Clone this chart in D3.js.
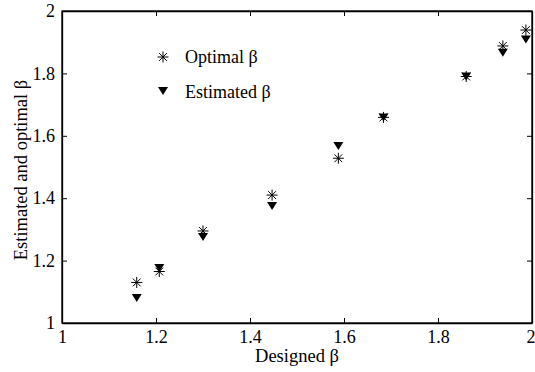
<!DOCTYPE html>
<html><head><meta charset="utf-8">
<script src="https://cdn.jsdelivr.net/npm/d3@7"></script>
<style>body{margin:0;background:#fff}svg{display:block}text{font-family:"Liberation Serif","Times New Roman",serif;fill:#000}</style>
</head><body><svg id="c" width="535" height="372"></svg>
<script>
const designed = [1.159, 1.207, 1.30, 1.447, 1.588, 1.684, 1.86, 1.938, 1.987];
const optimal  = [1.13, 1.165, 1.295, 1.41, 1.528, 1.659, 1.79, 1.888, 1.939];
const estimated= [1.08, 1.176, 1.276, 1.375, 1.567, 1.659, 1.79, 1.866, 1.909];
const xTicks = [1, 1.2, 1.4, 1.6, 1.8, 2];
const yTicks = [1, 1.2, 1.4, 1.6, 1.8, 2];
const legendLabels = ["Optimal \u03b2", "Estimated \u03b2"];

const svg = d3.select("#c");
const L=62, R=532, T=11, B=323;
const x = d3.scaleLinear().domain([1,2]).range([L,R]);
const y = d3.scaleLinear().domain([1,2]).range([B,T]);
const fmt = d => d3.format("")(+d.toFixed(1));

const gx = svg.append("g").attr("transform",`translate(0,${B})`)
  .call(d3.axisBottom(x).tickValues(xTicks).tickFormat(fmt).tickSizeInner(-5).tickSizeOuter(0).tickPadding(7));
const gxt = svg.append("g").attr("transform",`translate(0,${T})`)
  .call(d3.axisTop(x).tickValues(xTicks).tickFormat("").tickSizeInner(-5).tickSizeOuter(0));
const gy = svg.append("g").attr("transform",`translate(${L},0)`)
  .call(d3.axisLeft(y).tickValues(yTicks).tickFormat(fmt).tickSizeInner(-5).tickSizeOuter(0).tickPadding(7));
const gyr = svg.append("g").attr("transform",`translate(${R},0)`)
  .call(d3.axisRight(y).tickValues(yTicks).tickFormat("").tickSizeInner(-5).tickSizeOuter(0));
[gx,gxt,gy,gyr].forEach(g=>{
  g.selectAll("path").attr("stroke","#000").attr("stroke-width",1.3);
  g.selectAll("line").attr("stroke","#000").attr("stroke-width",1);
  g.selectAll("text").style("font-family",'"Liberation Serif",serif').style("font-size","18px").attr("fill","#000");
});
gy.selectAll(".tick text").attr("dy","0.32em");
// keep the last x label inside the window
gx.selectAll(".tick text").filter(d=>d===2).attr("text-anchor","end").attr("dx","3px");
svg.append("rect").attr("x",L).attr("y",T).attr("width",R-L).attr("height",B-T)
  .attr("fill","none").attr("stroke","#000").attr("stroke-width",1.3);

svg.append("text").attr("x",(L+R)/2).attr("y",362).attr("text-anchor","middle")
  .style("font-size","18.5px").text("Designed \u03b2");
svg.append("text").attr("transform",`translate(27,${(T+B)/2 + 3}) rotate(-90)`).attr("text-anchor","middle")
  .style("font-size","18.5px").text("Estimated and optimal \u03b2");

function star(g, cx, cy, r){
  [0,45,90,135].forEach(d=>{
    const t=d*Math.PI/180;
    g.append("line").attr("x1",cx-r*Math.cos(t)).attr("y1",cy-r*Math.sin(t))
      .attr("x2",cx+r*Math.cos(t)).attr("y2",cy+r*Math.sin(t))
      .attr("stroke","#000").attr("stroke-width",1);
  });
}
function tri(g, cx, cy, s){
  g.append("path").attr("d",`M${cx-s},${cy-s*0.8}L${cx+s},${cy-s*0.8}L${cx},${cy+s*0.8}Z`).attr("fill","#000");
}
const pts = svg.append("g");
designed.forEach((d,i)=>{
  tri(pts, x(d), y(estimated[i]), 5);
  star(pts, x(d), y(optimal[i]), 5.5);
});

const lg = svg.append("g");
star(lg, 163, 57, 5.5);
tri(lg, 163, 91, 5);
lg.append("text").attr("x",185).attr("y",63).style("font-size","18px").text(legendLabels[0]);
lg.append("text").attr("x",185).attr("y",98).style("font-size","18px").text(legendLabels[1]);
</script></body></html>
